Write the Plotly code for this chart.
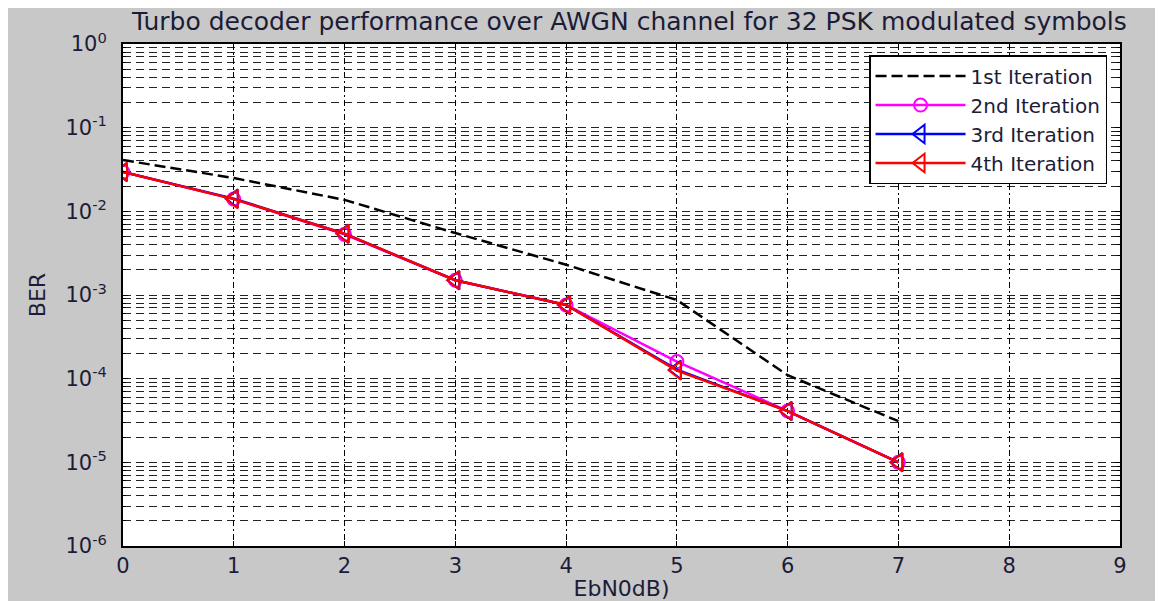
import plotly.graph_objects as go

ebn0 = [0, 1, 2, 3, 4, 5, 6, 7]
ber_it1 = [0.041, 0.025, 0.0137, 0.0055, 0.0023, 0.00087, 0.00011, 0.000031]
ber_it2 = [0.0295, 0.014, 0.0053, 0.0015, 0.00076, 0.00016, 0.000041, 0.00001]
ber_it3 = [0.0295, 0.0142, 0.0054, 0.0015, 0.00076, 0.000128, 0.000041, 0.00001]
ber_it4 = [0.0295, 0.014, 0.0054, 0.0015, 0.00076, 0.000125, 0.000041, 0.00001]
names = ["1st Iteration", "2nd Iteration", "3rd Iteration", "4th Iteration"]

x_ticks = list(range(0, 10))
y_tickvals = [1, 1e-1, 1e-2, 1e-3, 1e-4, 1e-5, 1e-6]
y_ticktext = ["10<sup>0</sup>", "10<sup>-1</sup>", "10<sup>-2</sup>", "10<sup>-3</sup>",
              "10<sup>-4</sup>", "10<sup>-5</sup>", "10<sup>-6</sup>"]

FONT = "DejaVu Sans"
TXT = "#1c1c38"

fig = go.Figure()
fig.add_trace(go.Scatter(x=ebn0, y=ber_it1, name=names[0], mode="lines",
                         line=dict(color="black", width=2.5, dash="11px,5px")))
fig.add_trace(go.Scatter(x=ebn0, y=ber_it2, name=names[1], mode="lines+markers",
                         line=dict(color="#ff00ff", width=2.5),
                         marker=dict(symbol="circle-open", size=13, color="#ff00ff",
                                     line=dict(width=2))))
fig.add_trace(go.Scatter(x=ebn0, y=ber_it3, name=names[2], mode="lines+markers",
                         line=dict(color="#0000ff", width=2.5),
                         marker=dict(symbol="triangle-left-open", size=16, color="#0000ff",
                                     line=dict(width=2))))
fig.add_trace(go.Scatter(x=ebn0, y=ber_it4, name=names[3], mode="lines+markers",
                         line=dict(color="#ff0000", width=2.5),
                         marker=dict(symbol="triangle-left-open", size=16, color="#ff0000",
                                     line=dict(width=2))))

fig.update_layout(
    width=1155, height=593,
    paper_bgcolor="#c8c8c8", plot_bgcolor="white",
    margin=dict(l=115, r=43, t=36, b=55, autoexpand=False),
    font=dict(family=FONT, size=20, color=TXT),
    title=dict(text="Turbo decoder performance over AWGN channel for 32 PSK modulated symbols",
               x=0.538, xanchor="center", xref="container", y=0.978, yanchor="middle",
               yref="container", font=dict(size=25, family=FONT, color=TXT)),
    showlegend=True,
    legend=dict(x=0.987, xanchor="right", y=0.978, yanchor="top",
                bgcolor="white", bordercolor="black", borderwidth=1.5,
                font=dict(size=20, family=FONT, color=TXT), tracegroupgap=0,
                itemwidth=90),
    xaxis=dict(range=[0, 9], tickvals=x_ticks, showgrid=True, gridcolor="black",
               griddash="6px,3px,2px,3px", gridwidth=1, showline=True, linecolor="black",
               linewidth=2, mirror="ticks", ticks="inside", ticklen=5,
               tickcolor="black", zeroline=False, automargin=False,
               title=dict(text="EbN0dB)", standoff=4, font=dict(size=22, family=FONT)),
               tickfont=dict(size=21, family=FONT)),
    yaxis=dict(type="log", range=[-6, 0], tickvals=y_tickvals, ticktext=y_ticktext,
               showgrid=True, gridcolor="#222", griddash="8px,5px", gridwidth=1,
               showline=True, linecolor="black", linewidth=2, mirror="ticks",
               ticks="inside", ticklen=5, tickcolor="black", zeroline=False,
               ticklabelstandoff=10, automargin=False,
               minor=dict(dtick="D1", showgrid=True, gridcolor="#222", griddash="8px,5px",
                          gridwidth=1, ticks="inside", ticklen=3, tickcolor="black"),
               title=dict(text="BER", standoff=14, font=dict(size=22, family=FONT)),
               tickfont=dict(size=21, family=FONT)),
)

fig.write_html("out.html")
